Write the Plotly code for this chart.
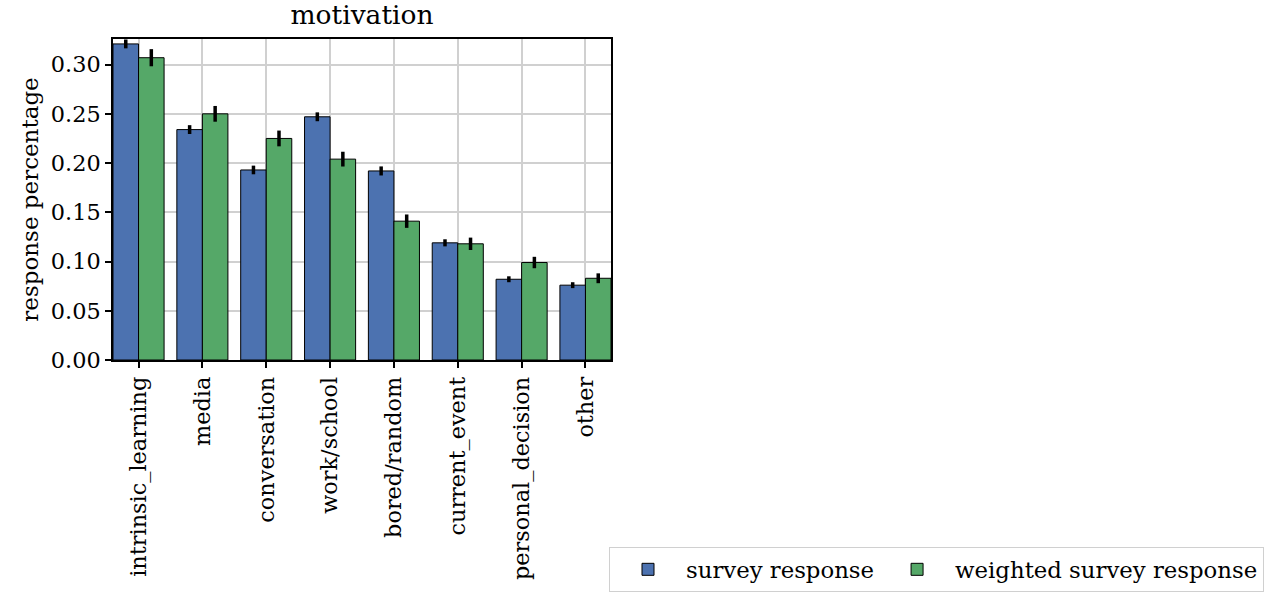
import plotly.graph_objects as go

categories = ["intrinsic_learning", "media", "conversation", "work/school",
              "bored/random", "current_event", "personal_decision", "other"]
survey = [0.321, 0.234, 0.193, 0.247, 0.192, 0.119, 0.082, 0.076]
survey_err = [0.0045, 0.0045, 0.0044, 0.0045, 0.0046, 0.0036, 0.003, 0.003]
weighted = [0.307, 0.250, 0.225, 0.204, 0.141, 0.118, 0.099, 0.083]
weighted_err = [0.0087, 0.008, 0.008, 0.0075, 0.0068, 0.0063, 0.0058, 0.005]
yticks = [0.0, 0.05, 0.10, 0.15, 0.20, 0.25, 0.30]

FONT = "DejaVu Serif"
FS = 22.4

fig = go.Figure()
fig.add_trace(go.Bar(
    x=categories, y=survey, name="survey response",
    marker=dict(color="#4C72B0", line=dict(color="black", width=1)),
    error_y=dict(type="data", array=survey_err, color="black", thickness=3.5, width=0),
))
fig.add_trace(go.Bar(
    x=categories, y=weighted, name="weighted survey response",
    marker=dict(color="#55A868", line=dict(color="black", width=1)),
    error_y=dict(type="data", array=weighted_err, color="black", thickness=3.5, width=0),
))

L, R, T, B = 113, 611, 39, 360
W, H = 1267, 595

fig.update_layout(
    width=W, height=H,
    margin=dict(l=L, r=W - R, t=T, b=H - B, autoexpand=False),
    paper_bgcolor="white", plot_bgcolor="white",
    font=dict(family=FONT, size=FS, color="black"),
    barmode="group", bargap=0.2, bargroupgap=0,
    title=dict(text="motivation", x=(L + R) / 2 / W, xanchor="center",
               y=1 - 15 / H, yanchor="middle", font=dict(size=26.5, family=FONT)),
    legend=dict(orientation="h", x=(1264 - L) / (R - L), xanchor="right",
                y=(B - 592) / (B - T), yanchor="bottom",
                bordercolor="#d0d0d0", borderwidth=1, font=dict(size=22.8, family=FONT),
                itemwidth=66, traceorder="normal"),
    showlegend=True,
)
fig.update_xaxes(
    automargin=False, range=[-0.4, len(categories) - 0.6],
    showline=True, linecolor="black", linewidth=1.6, mirror=True,
    ticks="outside", ticklen=6, tickwidth=1.5, tickcolor="black", tickangle=-90,
    showgrid=True, gridcolor="#d0d0d0", gridwidth=2,
    tickfont=dict(size=FS, family=FONT),
)
fig.update_yaxes(
    automargin=False,
    range=[0, 0.326], tickvals=yticks, ticktext=[f"{v:.2f}" for v in yticks],
    showline=True, linecolor="black", linewidth=1.6, mirror=True,
    ticks="outside", ticklen=6, tickwidth=1.5, tickcolor="black",
    showgrid=True, gridcolor="#d0d0d0", gridwidth=2, zeroline=False,
    title=dict(text="response percentage", font=dict(size=23, family=FONT), standoff=6),
    tickfont=dict(size=FS, family=FONT),
)

fig.write_html("out.html", config={"displayModeBar": False},
               post_script="document.body.style.margin='0px';")
